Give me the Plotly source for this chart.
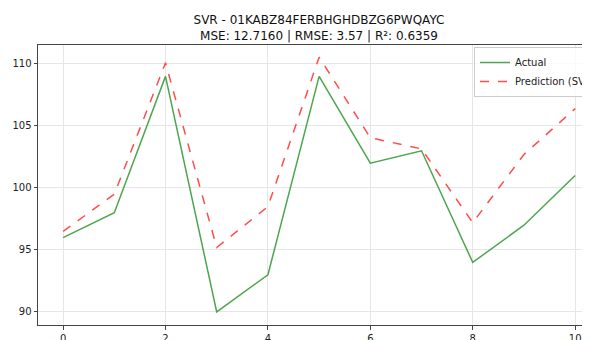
import plotly.graph_objects as go

x_vals = [0, 1, 2, 3, 4, 5, 6, 7, 8, 9, 10]
actual = [96.0, 98.0, 109.0, 90.0, 93.0, 109.0, 102.0, 103.0, 94.0, 97.0, 101.0]
predicted = [96.5, 99.5, 110.1, 95.2, 98.5, 110.55, 104.05, 103.15, 97.2, 102.7, 106.4]
title_line1 = "SVR - 01KABZ84FERBHGHDBZG6PWQAYC"
title_line2 = "MSE: 12.7160 | RMSE: 3.57 | R²: 0.6359"

# page has an 8px body margin; figure is sized/offset to compensate
OFF = 8
W, H = 590 - OFF, 340
L, R, T = 38 - OFF, 0, 45 - OFF
B = H - (325 - OFF)

fig = go.Figure()
fig.add_trace(go.Scatter(x=x_vals, y=actual, mode="lines", name="Actual",
                         line=dict(color="#4da64d", width=1.5)))
fig.add_trace(go.Scatter(x=x_vals, y=predicted, mode="lines", name="Prediction (SVR)",
                         line=dict(color="#ff4d4d", width=1.5, dash="dash")))

font_family = "DejaVu Sans"
pw = W - L - R
ph = H - T - B
fig.update_layout(
    width=W, height=H,
    margin=dict(l=L, r=R, t=T, b=B, autoexpand=False),
    paper_bgcolor="white", plot_bgcolor="white",
    font=dict(family=font_family, color="#222", size=10),
    title=dict(text=title_line1 + "<br>" + title_line2,
               x=(319 - OFF) / W, xref="container", xanchor="center",
               y=1 - 16 / H, yref="container", yanchor="top",
               font=dict(size=12, family=font_family, color="#111")),
    showlegend=True,
    legend=dict(x=(474 - 38) / pw, y=(ph - (47 - 45)) / ph,
                xanchor="left", yanchor="top",
                bgcolor="rgba(255,255,255,0.8)", bordercolor="#cccccc", borderwidth=1,
                font=dict(size=10, family=font_family, color="#222"),
                tracegroupgap=0),
    xaxis=dict(range=[-0.49, 10.29], tickmode="linear", tick0=0, dtick=2,
               showgrid=True, gridcolor="#e6e6e6", gridwidth=1, zeroline=False,
               showline=True, linecolor="#444", linewidth=1, mirror=True,
               ticks="outside", ticklen=3.5, tickcolor="#444",
               tickfont=dict(size=10, family=font_family, color="#222")),
    yaxis=dict(range=[88.95, 111.53], tickmode="linear", tick0=90, dtick=5,
               showgrid=True, gridcolor="#e6e6e6", gridwidth=1, zeroline=False,
               showline=True, linecolor="#444", linewidth=1, mirror=False,
               ticks="outside", ticklen=3.5, tickcolor="#444",
               tickfont=dict(size=10, family=font_family, color="#222")),
)

fig.write_html("out.html")
